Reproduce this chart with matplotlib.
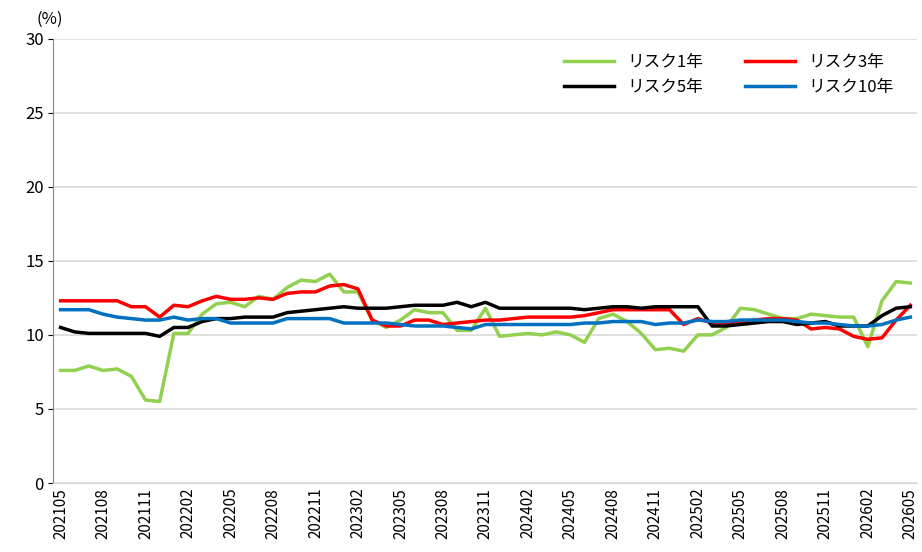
import numpy as np
import matplotlib.pyplot as plt

plt.rcParams['font.family'] = ['Noto Sans CJK JP', 'DejaVu Sans']

months = []
y, m = 2021, 5
for i in range(61):
    months.append(f"{y}{m:02d}")
    m += 1
    if m > 12:
        m = 1
        y += 1

risk1 = [7.6, 7.6, 7.9, 7.6, 7.7, 7.2, 5.6, 5.5, 10.1, 10.1, 11.4, 12.1, 12.2, 11.9, 12.6, 12.4,
         13.2, 13.7, 13.6, 14.1, 12.9, 12.9, 11.0, 10.5, 11.0, 11.7, 11.5, 11.5, 10.3, 10.3, 11.8,
         9.9, 10.0, 10.1, 10.0, 10.2, 10.0, 9.5, 11.1, 11.4, 10.9, 10.1, 9.0, 9.1, 8.9, 10.0, 10.0,
         10.5, 11.8, 11.7, 11.4, 11.1, 11.1, 11.4, 11.3, 11.2, 11.2, 9.2, 12.3, 13.6, 13.5]
risk3 = [12.3, 12.3, 12.3, 12.3, 12.3, 11.9, 11.9, 11.2, 12.0, 11.9, 12.3, 12.6, 12.4, 12.4, 12.5,
         12.4, 12.8, 12.9, 12.9, 13.3, 13.4, 13.1, 11.0, 10.6, 10.6, 11.0, 11.0, 10.7, 10.8, 10.9,
         11.0, 11.0, 11.1, 11.2, 11.2, 11.2, 11.2, 11.3, 11.5, 11.7, 11.7, 11.7, 11.7, 11.7, 10.7,
         11.1, 10.8, 10.8, 10.9, 11.0, 11.1, 11.1, 11.0, 10.4, 10.5, 10.4, 9.9, 9.7, 9.8, 11.0, 12.0]
risk5 = [10.5, 10.2, 10.1, 10.1, 10.1, 10.1, 10.1, 9.9, 10.5, 10.5, 10.9, 11.1, 11.1, 11.2, 11.2,
         11.2, 11.5, 11.6, 11.7, 11.8, 11.9, 11.8, 11.8, 11.8, 11.9, 12.0, 12.0, 12.0, 12.2, 11.9,
         12.2, 11.8, 11.8, 11.8, 11.8, 11.8, 11.8, 11.7, 11.8, 11.9, 11.9, 11.8, 11.9, 11.9, 11.9,
         11.9, 10.6, 10.6, 10.7, 10.8, 10.9, 10.9, 10.7, 10.8, 10.9, 10.6, 10.6, 10.6, 11.3, 11.8, 11.9]
risk10 = [11.7, 11.7, 11.7, 11.4, 11.2, 11.1, 11.0, 11.0, 11.2, 11.0, 11.1, 11.1, 10.8, 10.8, 10.8,
          10.8, 11.1, 11.1, 11.1, 11.1, 10.8, 10.8, 10.8, 10.8, 10.7, 10.6, 10.6, 10.6, 10.5, 10.4,
          10.7, 10.7, 10.7, 10.7, 10.7, 10.7, 10.7, 10.8, 10.8, 10.9, 10.9, 10.9, 10.7, 10.8, 10.8,
          11.0, 10.9, 10.9, 11.0, 11.0, 11.0, 11.0, 10.9, 10.8, 10.8, 10.7, 10.6, 10.6, 10.7, 11.0, 11.2]

fig, ax = plt.subplots(figsize=(9.22, 5.52), dpi=100)
fig.subplots_adjust(left=0.058, right=0.995, top=0.93, bottom=0.125)
x = np.arange(len(months))
l1, = ax.plot(x, risk1, color='#92d050', lw=2.5, label='リスク1年')
l3, = ax.plot(x, risk3, color='#ff0000', lw=2.5, label='リスク3年')
l5, = ax.plot(x, risk5, color='#000000', lw=2.5, label='リスク5年')
l10, = ax.plot(x, risk10, color='#0070c0', lw=2.5, label='リスク10年')

ax.set_ylim(0, 30)
ax.set_yticks(range(0, 31, 5))
ax.set_xlim(-0.5, len(months) - 0.5)
ax.set_xticks(x[::3])
ax.set_xticklabels(months[::3], rotation=90, fontsize=11)
ax.tick_params(axis='y', labelsize=12)
ax.grid(axis='y', color='#d9d9d9', lw=1.2)
ax.set_axisbelow(True)
for s in ['top', 'right']:
    ax.spines[s].set_visible(False)
ax.spines['left'].set_color('#888888')
ax.spines['bottom'].set_color('#d9d9d9')
ax.tick_params(axis='x', length=0)
fig.text(0.040, 0.965, '(%)', fontsize=12, ha='left', va='center')
ax.legend([l1, l5, l3, l10], ['リスク1年', 'リスク5年', 'リスク3年', 'リスク10年'],
          ncol=2, loc='upper right', frameon=False, fontsize=12,
          bbox_to_anchor=(0.99, 1.0), handlelength=3, columnspacing=2.5)
fig.savefig('out.png')
